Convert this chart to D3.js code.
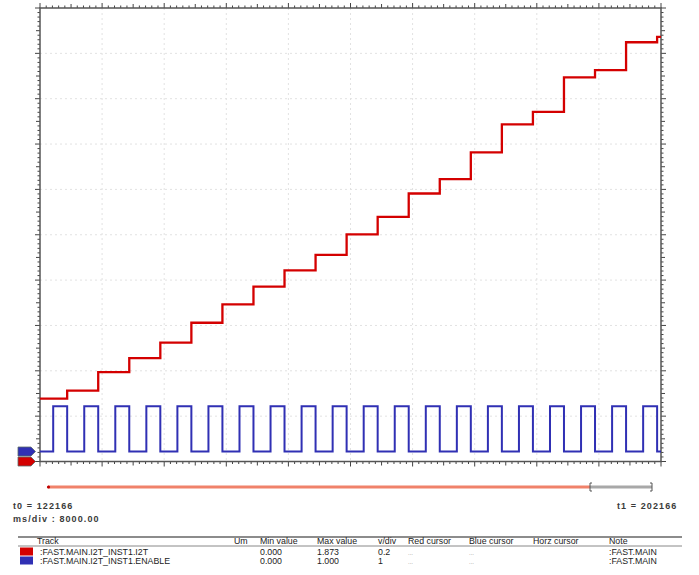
<!DOCTYPE html>
<html>
<head>
<meta charset="utf-8">
<script src="https://cdn.jsdelivr.net/npm/d3@7"></script>
<style>
  body { margin: 0; background: #fff; }
  svg { display: block; }
  text { font-family: "Liberation Sans", Arial, sans-serif; }
</style>
</head>
<body>
<svg id="scope" width="699" height="575"></svg>
<script>
// time window (ms)
const t0 = 122166;
const t1 = 202166;
const msPerDiv = 8000;

// ENABLE edges, ms after t0
const enableRise = [1700, 5700, 9700, 13700, 17700, 21700, 25700, 29700, 33700, 37700,
                    41700, 45700, 49700, 53700, 57700, 61700, 65700, 69700, 73700, 77700];
const enableFall = [3500, 7500, 11500, 15500, 19500, 23500, 27500, 31500, 35500, 39500,
                    43500, 47500, 51500, 55500, 59500, 63500, 67500, 71500, 75500, 79500];

// I2T level before first step and after each falling edge of ENABLE
const i2tLevels = [0.277, 0.313, 0.394, 0.456, 0.524, 0.612, 0.693, 0.771, 0.843, 0.911, 1.002,
                   1.079, 1.182, 1.245, 1.363, 1.487, 1.542, 1.694, 1.726, 1.849, 1.873];

// legend table
const columns = ["Track", "Um", "Min value", "Max value", "v/div", "Red cursor", "Blue cursor", "Horz cursor", "Note"];
const trackNames = [":FAST.MAIN.I2T_INST1.I2T", ":FAST.MAIN.I2T_INST1.ENABLE"];
const trackColors = ["#d40000", "#3030b4"];
const minValues = ["0.000", "0.000"];
const maxValues = ["1.873", "1.000"];
const vPerDiv = [0.2, 1];
const trackOffsets = [0, 0.22]; // in divisions
const notes = [":FAST.MAIN", ":FAST.MAIN"];

const svg = d3.select("#scope"),
    plot = { left: 40, right: 661, top: 8, bottom: 461.5 };

const x = d3.scaleLinear()
    .domain([t0, t1])
    .range([plot.left, plot.right]);

const yDiv = d3.scaleLinear()
    .domain([0, 10])
    .range([plot.bottom, plot.top]);

const nDivX = (t1 - t0) / msPerDiv;

// grid (faint dotted)
const grid = svg.append("g").attr("stroke", "#e2e2e2").attr("stroke-dasharray", "2,3");
d3.range(1, nDivX).forEach(i => {
    const gx = x(t0 + i * msPerDiv);
    grid.append("line").attr("x1", gx).attr("x2", gx).attr("y1", plot.top).attr("y2", plot.bottom);
});
d3.range(1, 10).forEach(i => {
    grid.append("line").attr("x1", plot.left).attr("x2", plot.right).attr("y1", yDiv(i)).attr("y2", yDiv(i));
});

// frame ticks (outward), 10 minor per division
const frame = svg.append("g").attr("stroke", "#444").attr("stroke-width", 1);
function tickLen(k) { return k % 10 === 0 ? 5 : (k % 5 === 0 ? 4 : 2.5); }
d3.range(0, nDivX * 10 + 1).forEach(k => {
    const tx = x(t0 + k * msPerDiv / 10);
    frame.append("line").attr("x1", tx).attr("x2", tx).attr("y1", plot.top).attr("y2", plot.top - tickLen(k));
    frame.append("line").attr("x1", tx).attr("x2", tx).attr("y1", plot.bottom).attr("y2", plot.bottom + tickLen(k));
});
d3.range(0, 101).forEach(k => {
    const ty = yDiv(k / 10);
    frame.append("line").attr("x1", plot.left).attr("x2", plot.left - tickLen(k)).attr("y1", ty).attr("y2", ty);
    frame.append("line").attr("x1", plot.right).attr("x2", plot.right + tickLen(k)).attr("y1", ty).attr("y2", ty);
});
svg.append("rect")
    .attr("x", plot.left).attr("y", plot.top)
    .attr("width", plot.right - plot.left).attr("height", plot.bottom - plot.top)
    .attr("fill", "none").attr("stroke", "#555").attr("stroke-width", 1.5);

// traces
const yTrack = (v, i) => yDiv(v / vPerDiv[i] + trackOffsets[i]);

const i2tData = i2tLevels.map((v, j) => ({ t: j === 0 ? 0 : enableFall[j - 1], v }));
i2tData.push({ t: t1 - t0, v: i2tLevels[i2tLevels.length - 1] });

const enableData = [{ t: 0, v: 0 }];
enableRise.forEach((r, j) => {
    enableData.push({ t: r, v: 1 });
    enableData.push({ t: enableFall[j], v: 0 });
});
enableData.push({ t: t1 - t0, v: 0 });

const lineOf = i => d3.line()
    .x(d => x(t0 + d.t))
    .y(d => yTrack(d.v, i))
    .curve(d3.curveStepAfter);

svg.append("path").datum(enableData)
    .attr("d", lineOf(1))
    .attr("fill", "none").attr("stroke", trackColors[1]).attr("stroke-width", 2);

svg.append("path").datum(i2tData)
    .attr("d", lineOf(0))
    .attr("fill", "none").attr("stroke", trackColors[0]).attr("stroke-width", 2.3);

// offset markers on the left
[1, 0].forEach(i => {
    const cy = yTrack(0, i);
    svg.append("path")
        .attr("d", `M18,${cy - 4.5}L31,${cy - 4.5}L35.5,${cy}L31,${cy + 4.5}L18,${cy + 4.5}Z`)
        .attr("fill", trackColors[i])
        .attr("stroke", "#5a6a6a").attr("stroke-width", 0.8);
});

// overview bar
const barY = 487;
svg.append("line")
    .attr("x1", 48).attr("x2", 590).attr("y1", barY).attr("y2", barY)
    .attr("stroke", "#f0826a").attr("stroke-width", 3);
svg.append("circle").attr("cx", 48.5).attr("cy", barY).attr("r", 1.6).attr("fill", "#c00000");
svg.append("line")
    .attr("x1", 590).attr("x2", 652).attr("y1", barY).attr("y2", barY)
    .attr("stroke", "#a8a8a8").attr("stroke-width", 3);
[590, 652].forEach((bx, j) => {
    const d = j === 0 ? 2 : -2;
    svg.append("path")
        .attr("d", `M${bx + d},${barY - 4}L${bx},${barY - 4}L${bx},${barY + 4}L${bx + d},${barY + 4}`)
        .attr("fill", "none").attr("stroke", "#555").attr("stroke-width", 1);
});

// time labels
const info = svg.append("g")
    .style("font-family", "'DejaVu Sans', sans-serif")
    .style("font-size", "9px").style("font-weight", "bold")
    .style("letter-spacing", "1.1px").attr("fill", "#3a3a3a");
info.append("text").attr("x", 13).attr("y", 509).text(`t0 = ${t0}`);
info.append("text").attr("x", 13).attr("y", 522).text(`ms/div : ${msPerDiv.toFixed(2)}`);
info.append("text").attr("x", 617).attr("y", 509).text(`t1 = ${t1}`);

// track table
const colX = [37, 234, 260, 317, 378, 408, 469, 533, 609];
svg.append("line").attr("x1", 18).attr("x2", 682).attr("y1", 537).attr("y2", 537)
    .attr("stroke", "#666").attr("stroke-width", 1.5);
svg.append("line").attr("x1", 18).attr("x2", 682).attr("y1", 546).attr("y2", 546)
    .attr("stroke", "#888").attr("stroke-width", 1);

const table = svg.append("g").style("font-size", "8.8px").attr("fill", "#222");
columns.forEach((c, j) => {
    table.append("text").attr("x", colX[j]).attr("y", 544).text(c);
});

trackNames.forEach((name, i) => {
    const ry = 554.5 + i * 9;
    svg.append("rect")
        .attr("x", 20).attr("y", ry - 7).attr("width", 13).attr("height", 8)
        .attr("fill", trackColors[i]);
    table.append("text").attr("x", 40).attr("y", ry).text(name);
    table.append("text").attr("x", colX[2]).attr("y", ry).text(minValues[i]);
    table.append("text").attr("x", colX[3]).attr("y", ry).text(maxValues[i]);
    table.append("text").attr("x", colX[4]).attr("y", ry).text(vPerDiv[i]);
    table.append("text").attr("x", colX[5]).attr("y", ry).attr("fill", "#888").style("font-size", "6px").text("...");
    table.append("text").attr("x", colX[6]).attr("y", ry).attr("fill", "#888").style("font-size", "6px").text("...");
    table.append("text").attr("x", colX[8]).attr("y", ry).text(notes[i]);
});
</script>
</body>
</html>
